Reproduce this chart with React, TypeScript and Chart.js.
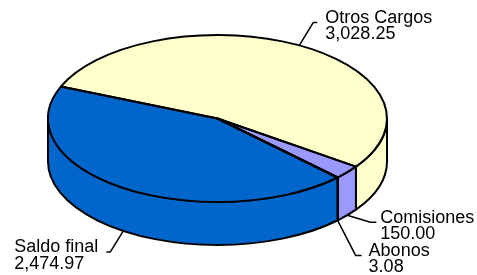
import React, { useEffect, useRef } from 'react';
import { Chart, registerables } from 'chart.js';

Chart.register(...registerables);

// ---- data ----
const categories = ['Otros Cargos', 'Comisiones', 'Abonos', 'Saldo final'];
const values = [3028.25, 150.0, 3.08, 2474.97];
const sliceColors = ['#FFFFCC', '#9999FF', '#993366', '#0066CC'];

// ---- layout / style ----
const W = 477;
const H = 275;
const CENTER_X = 217.5;
const CENTER_Y = 118.5;
const RADIUS = 169.5;
const TILT = 0.4926;
const DEPTH = 43;
const START_DEG = 202.5;
const FONT = '18px "Liberation Sans", Arial, Helvetica, sans-serif';
const LINE_H = 16.5;
const labelLayout = [
  { dx: 14, dy: -23, h: 4, gap: 8 },
  { dx: 23, dy: 7, h: 6, gap: 4 },
  { dx: 18, dy: 35, h: 6, gap: 7 },
  { dx: -13, dy: 21, h: -4, gap: 8 },
];

const fmt = (v: number) =>
  v.toLocaleString('en-US', { minimumFractionDigits: 2, maximumFractionDigits: 2 });

const pie3d = {
  id: 'pie3d',
  beforeDatasetsDraw(chart: any) {
    const ctx = chart.ctx as CanvasRenderingContext2D;
    const arcs = chart.getDatasetMeta(0).data as any[];
    if (!arcs.length) return;
    const cx = arcs[0].x, cy = arcs[0].y, r = arcs[0].outerRadius;
    const rx = r, ry = r * TILT;
    ctx.save();
    ctx.lineWidth = 2;
    ctx.strokeStyle = '#000';
    ctx.lineJoin = 'round';
    arcs.forEach((arc, i) => {
      const s = arc.startAngle, e = arc.endAngle;
      for (let k = -2; k <= 2; k++) {
        const a = Math.max(s, 2 * Math.PI * k);
        const b = Math.min(e, 2 * Math.PI * k + Math.PI);
        if (b <= a) continue;
        ctx.beginPath();
        ctx.ellipse(cx, cy, rx, ry, 0, a, b, false);
        ctx.lineTo(cx + rx * Math.cos(b), cy + ry * Math.sin(b) + DEPTH);
        ctx.ellipse(cx, cy + DEPTH, rx, ry, 0, b, a, true);
        ctx.closePath();
        ctx.fillStyle = sliceColors[i];
        ctx.fill();
        ctx.stroke();
      }
    });
    ctx.restore();
    ctx.save();
    ctx.translate(cx, cy);
    ctx.scale(1, TILT);
    ctx.translate(-cx, -cy);
  },
  afterDatasetsDraw(chart: any) {
    const ctx = chart.ctx as CanvasRenderingContext2D;
    const arcs = chart.getDatasetMeta(0).data as any[];
    if (!arcs.length) return;
    ctx.restore();
    const cx = arcs[0].x, cy = arcs[0].y, r = arcs[0].outerRadius;
    const rx = r, ry = r * TILT;
    ctx.save();
    ctx.lineWidth = 2;
    ctx.strokeStyle = '#000';
    ctx.lineJoin = 'round';
    arcs.forEach((arc) => {
      ctx.beginPath();
      ctx.moveTo(cx, cy);
      ctx.ellipse(cx, cy, rx, ry, 0, arc.startAngle, arc.endAngle, false);
      ctx.closePath();
      ctx.stroke();
    });
    // labels with leader lines
    ctx.font = FONT;
    ctx.fillStyle = '#000';
    ctx.textBaseline = 'alphabetic';
    ctx.lineWidth = 1.5;
    arcs.forEach((arc, i) => {
      const m = (arc.startAngle + arc.endAngle) / 2;
      const sm = Math.sin(m);
      const x0 = cx + rx * Math.cos(m);
      const y0 = cy + ry * sm + (sm > 0 ? DEPTH : 0);
      const L = labelLayout[i];
      const x1 = x0 + L.dx, y1 = y0 + L.dy;
      const x2 = x1 + L.h;
      ctx.beginPath();
      ctx.moveTo(x0, y0);
      ctx.lineTo(x1, y1);
      ctx.lineTo(x2, y1);
      ctx.stroke();
      const lines = [categories[i], fmt(values[i])];
      const wmax = Math.max(...lines.map((t) => ctx.measureText(t).width));
      const left = L.h >= 0 ? x2 + L.gap : x2 - L.gap - wmax;
      lines.forEach((t, j) => {
        ctx.textAlign = 'left';
        ctx.fillText(t, left, y1 + 0.5 + j * LINE_H);
      });
    });
    ctx.restore();
  },
};

export default function App() {
  const ref = useRef<HTMLCanvasElement | null>(null);
  useEffect(() => {
    if (!ref.current) return;
    const chart = new Chart(ref.current, {
      type: 'pie',
      data: {
        labels: categories,
        datasets: [
          {
            data: values,
            backgroundColor: sliceColors,
            borderWidth: 0,
            clip: false as any,
          },
        ],
      },
      options: {
        responsive: false,
        animation: false,
        devicePixelRatio: 1,
        events: [],
        rotation: START_DEG + 90,
        radius: RADIUS,
        layout: {
          padding: { left: 0, top: 0, right: W - 2 * CENTER_X, bottom: H - 2 * CENTER_Y },
        },
        plugins: { legend: { display: false }, tooltip: { enabled: false } },
      } as any,
      plugins: [pie3d as any],
    });
    return () => chart.destroy();
  }, []);
  return (
    <div style={{ position: 'fixed', left: 0, top: 0, width: W, height: H, background: '#fff' }}>
      <canvas ref={ref} width={W} height={H} style={{ display: 'block', width: W, height: H }} />
    </div>
  );
}
